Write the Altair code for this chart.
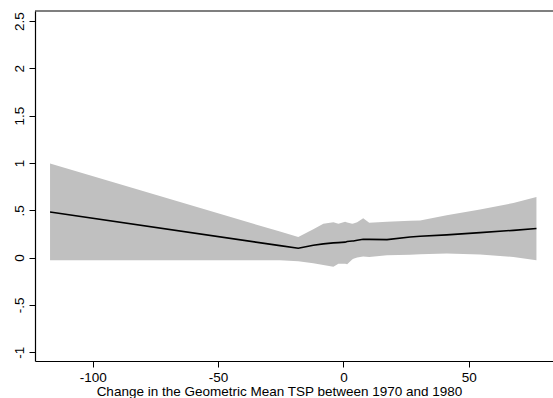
import altair as alt
import pandas as pd

# x positions (Change in the Geometric Mean TSP between 1970 and 1980)
x_vals = [-117, -25.3, -18, -12, -8, -4, -2, 0.7, 1.5, 3.5, 4, 5.5, 7.9, 10.3,
          17.4, 26.6, 30.6, 41.2, 54.5, 67.8, 77]
# fitted line
fit_vals = [0.482, 0.126, 0.098, 0.13, 0.145, 0.155, 0.158, 0.163, 0.17, 0.175,
            0.176, 0.183, 0.193, 0.192, 0.19, 0.218, 0.225, 0.24, 0.264, 0.288, 0.307]
# upper confidence bound
upper_vals = [0.994, 0.275, 0.218, 0.30, 0.357, 0.373, 0.357, 0.378, 0.37, 0.357,
              0.36, 0.373, 0.415, 0.368, 0.378, 0.388, 0.391, 0.447, 0.507, 0.577, 0.641]
# lower confidence bound
lower_vals = [-0.029, -0.029, -0.04, -0.06, -0.078, -0.097, -0.065, -0.065, -0.07, -0.02,
              -0.013, 0.0, 0.012, 0.006, 0.024, 0.03, 0.035, 0.042, 0.032, 0.006, -0.029]

x_ticks = [-100, -50, 0, 50]
y_ticks = [-1, -0.5, 0, 0.5, 1, 1.5, 2, 2.5]

df = pd.DataFrame({"x": x_vals, "fit": fit_vals, "lo": lower_vals, "hi": upper_vals})

FONT = "Liberation Sans"
FS = 13.5
xscale = alt.Scale(domain=[-123.0, 83.6], nice=False, zero=False)
yscale = alt.Scale(domain=[-1.093, 2.606], nice=False, zero=False)

xaxis = alt.Axis(
    title="Change in the Geometric Mean TSP between 1970 and 1980",
    values=x_ticks, grid=False, domainColor="black", domainWidth=1.2,
    tickColor="black", tickSize=6, tickWidth=1, labelFont=FONT, labelFontSize=FS,
    labelColor="black", labelPadding=3, titleFont=FONT, titleFontSize=FS,
    titleFontWeight="normal", titleColor="black", titlePadding=1,
    titleX=244, labelFlush=False,
    labelExpr="datum.value < 0 ? '-' + format(-datum.value, '~g') : format(datum.value, '~g')",
)
yaxis = alt.Axis(
    title=None, values=y_ticks, grid=False, domainColor="black", domainWidth=1.2,
    tickColor="black", tickSize=6, tickWidth=1, labelFont=FONT, labelFontSize=FS,
    labelColor="black", labelAngle=270, labelAlign="center", labelBaseline="bottom",
    labelPadding=3, labelFlush=False,
    labelExpr="datum.value == 0.5 ? '.5' : (datum.value == -0.5 ? '-.5' : (datum.value < 0 ? '-' + format(-datum.value, '~g') : format(datum.value, '~g')))",
)

base = alt.Chart(df)
band = base.mark_area(color="#c0c0c0", opacity=1).encode(
    x=alt.X("x:Q", scale=xscale, axis=xaxis),
    y=alt.Y("lo:Q", scale=yscale, axis=yaxis),
    y2="hi:Q",
)
line = base.mark_line(color="black", strokeWidth=1.6).encode(
    x=alt.X("x:Q", scale=xscale),
    y=alt.Y("fit:Q", scale=yscale),
)
top = alt.Chart(pd.DataFrame({"a": [0]})).mark_rule(color="black", strokeWidth=1.2).encode(
    y=alt.value(0)
)

chart = alt.layer(band, line, top).properties(
    width=518, height=350,
    padding={"left": 35, "top": 11, "right": 0, "bottom": 37},
    autosize=alt.AutoSizeParams(type="none"),
    background="white",
).configure_view(stroke=None)

chart.save("out.html", embed_options={"renderer": "svg", "actions": False})
